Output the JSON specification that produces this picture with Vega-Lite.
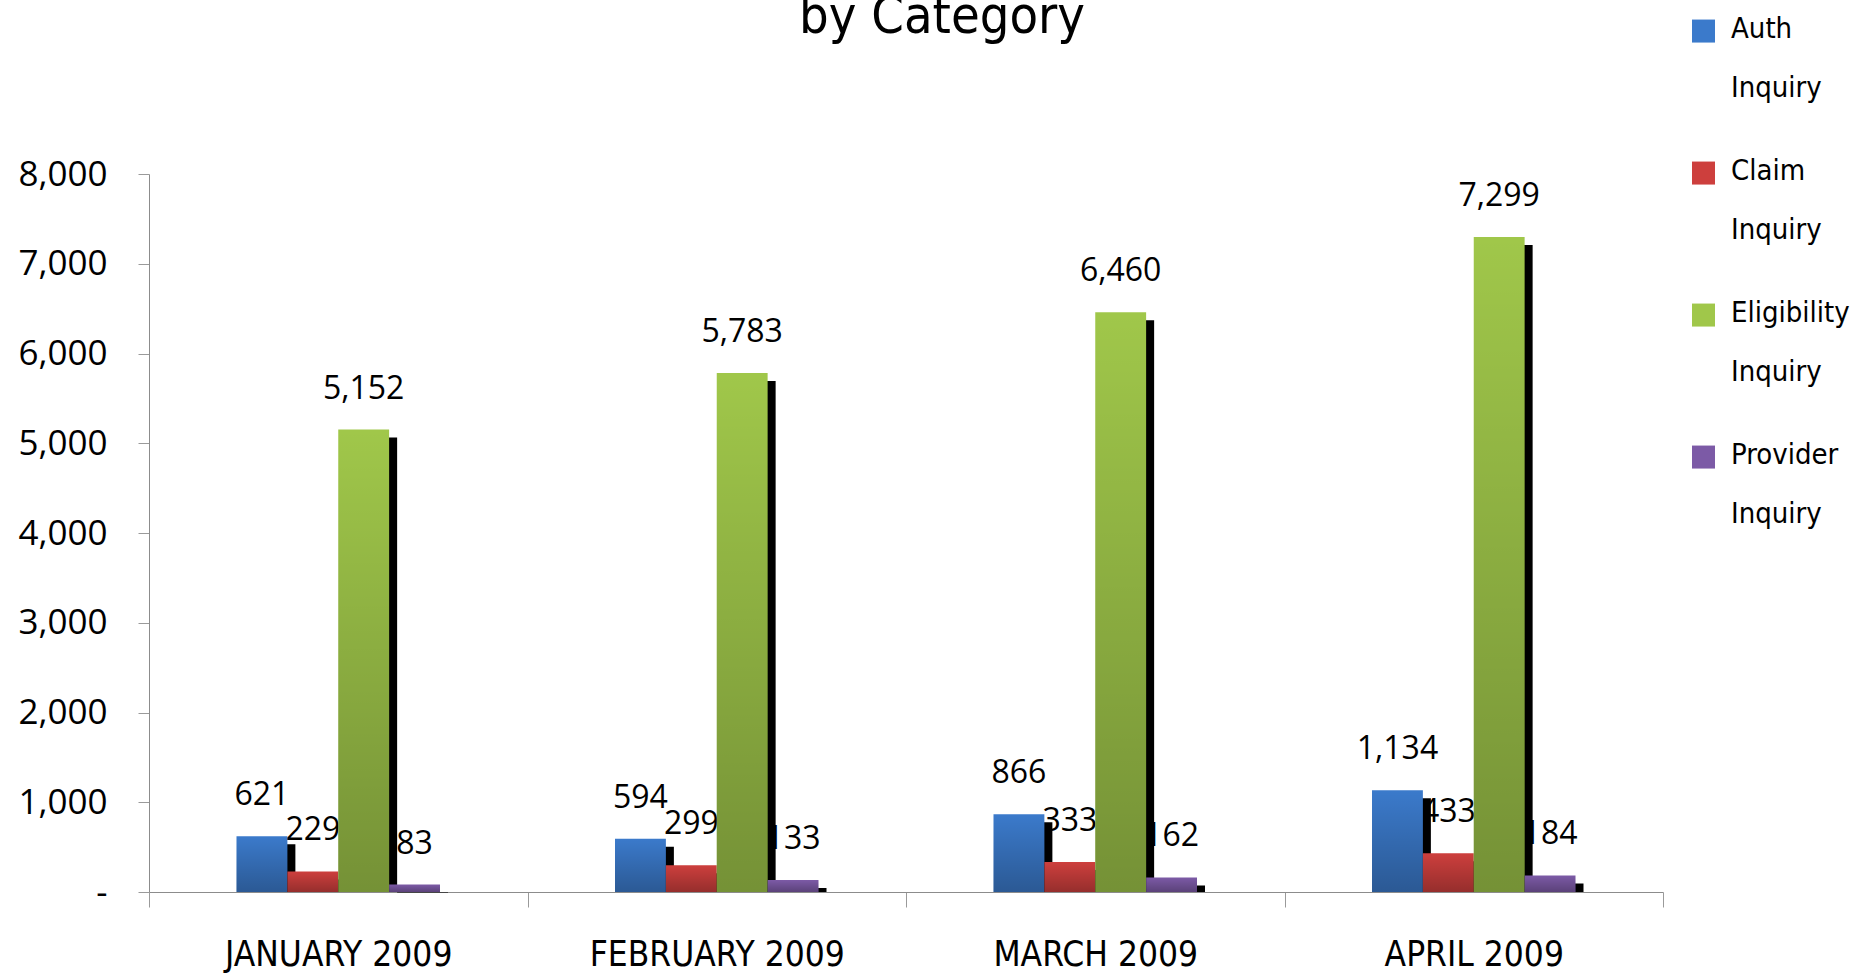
{
  "$schema": "https://vega.github.io/schema/vega-lite/v6.json",
  "autosize": "none",
  "width": 1514,
  "height": 718,
  "padding": {"left": 149, "top": 174, "right": 195, "bottom": 84},
  "background": "white",
  "title": {
    "text": "by Category",
    "font": "DejaVu Sans Condensed, DejaVu Sans",
    "fontSize": 52,
    "fontWeight": "normal",
    "color": "black",
    "anchor": "middle",
    "frame": "group",
    "dx": 36,
    "dy": 85,
    "offset": 0,
    "baseline": "alphabetic"
  },
  "data": {
    "values": [
      {"month": "JANUARY 2009", "series": "Auth Inquiry", "value": 621},
      {"month": "JANUARY 2009", "series": "Claim Inquiry", "value": 229},
      {"month": "JANUARY 2009", "series": "Eligibility Inquiry", "value": 5152},
      {"month": "JANUARY 2009", "series": "Provider Inquiry", "value": 83},
      {"month": "FEBRUARY 2009", "series": "Auth Inquiry", "value": 594},
      {"month": "FEBRUARY 2009", "series": "Claim Inquiry", "value": 299},
      {"month": "FEBRUARY 2009", "series": "Eligibility Inquiry", "value": 5783},
      {"month": "FEBRUARY 2009", "series": "Provider Inquiry", "value": 133},
      {"month": "MARCH 2009", "series": "Auth Inquiry", "value": 866},
      {"month": "MARCH 2009", "series": "Claim Inquiry", "value": 333},
      {"month": "MARCH 2009", "series": "Eligibility Inquiry", "value": 6460},
      {"month": "MARCH 2009", "series": "Provider Inquiry", "value": 162},
      {"month": "APRIL 2009", "series": "Auth Inquiry", "value": 1134},
      {"month": "APRIL 2009", "series": "Claim Inquiry", "value": 433},
      {"month": "APRIL 2009", "series": "Eligibility Inquiry", "value": 7299},
      {"month": "APRIL 2009", "series": "Provider Inquiry", "value": 184}
    ]
  },
  "encoding": {
    "x": {
      "field": "month",
      "type": "nominal",
      "sort": ["JANUARY 2009", "FEBRUARY 2009", "MARCH 2009", "APRIL 2009"],
      "scale": {"paddingInner": 0, "paddingOuter": 0},
      "axis": {
        "title": null,
        "tickBand": "extent",
        "tickSize": 15,
        "tickColor": "#9a9a9a",
        "domainColor": "#8c8c8c",
        "labelFont": "DejaVu Sans Condensed, DejaVu Sans",
        "labelFontSize": 35,
        "labelColor": "black",
        "labelAngle": 0,
        "labelBaseline": "top",
        "labelPadding": 30,
        "labelLimit": 400
      }
    },
    "y": {
      "field": "value",
      "type": "quantitative",
      "scale": {"domain": [0, 8000], "nice": false},
      "axis": {
        "title": null,
        "grid": false,
        "values": [0, 1000, 2000, 3000, 4000, 5000, 6000, 7000, 8000],
        "labelExpr": "datum.value == 0 ? '-\u00a0\u00a0\u00a0\u00a0' : format(datum.value, ',')",
        "tickSize": 11,
        "tickColor": "#9a9a9a",
        "domainColor": "#8c8c8c",
        "labelFont": "Open Sans",
        "labelFontSize": 35,
        "labelColor": "black",
        "labelPadding": 31
      }
    }
  },
  "layer": [
    {
      "mark": {"type": "text", "baseline": "alphabetic", "dy": -31, "font": "Open Sans", "fontSize": 32, "color": "black"},
      "encoding": {
        "xOffset": {
          "field": "series",
          "type": "nominal",
          "scale": {"type": "band", "domain": [" ", "Auth Inquiry", "Claim Inquiry", "Eligibility Inquiry", "Provider Inquiry", "  "], "paddingInner": 0, "paddingOuter": 0.72}
        },
        "text": {"field": "value", "type": "quantitative", "format": ","}
      }
    },
    {
      "mark": {"type": "bar", "color": "black", "yOffset": 8, "y2Offset": 0},
      "encoding": {
        "xOffset": {
          "field": "series",
          "type": "nominal",
          "scale": {"type": "band", "domain": [" ", "Auth Inquiry", "Claim Inquiry", "Eligibility Inquiry", "Provider Inquiry", "  "], "paddingInner": 0, "paddingOuter": 0.72, "align": 0.6093}
        },
        "y2": {"datum": 0}
      }
    },
    {
      "mark": {"type": "bar"},
      "encoding": {
        "xOffset": {
          "field": "series",
          "type": "nominal",
          "scale": {"type": "band", "domain": [" ", "Auth Inquiry", "Claim Inquiry", "Eligibility Inquiry", "Provider Inquiry", "  "], "paddingInner": 0, "paddingOuter": 0.72}
        },
        "color": {
          "field": "series",
          "type": "nominal",
          "scale": {
            "domain": ["Auth Inquiry", "Claim Inquiry", "Eligibility Inquiry", "Provider Inquiry"],
            "range": ["#3b7acb", "#cd3f3d", "#a0c74a", "#7c5aa6"]
          },
          "legend": {
            "title": null,
            "orient": "none",
            "legendX": 1540,
            "legendY": -174,
            "symbolType": "M-1,0.44H1V2.44H-1Z",
            "symbolSize": 529,
            "symbolStrokeWidth": 0,
            "labelFont": "DejaVu Sans Condensed, DejaVu Sans",
            "labelFontSize": 29,
            "labelColor": "black",
            "labelLimit": 300,
            "labelOffset": 13,
            "labelBaseline": "top",
            "labelExpr": "split(datum.label, ' ')",
            "rowPadding": 39
          }
        }
      }
    },
    {
      "mark": {
        "type": "bar",
        "fill": {
          "gradient": "linear",
          "x1": 0, "y1": 0, "x2": 0, "y2": 1,
          "stops": [
            {"offset": 0, "color": "rgba(0,0,0,0)"},
            {"offset": 1, "color": "rgba(0,0,0,0.27)"}
          ]
        }
      },
      "encoding": {
        "xOffset": {
          "field": "series",
          "type": "nominal",
          "scale": {"type": "band", "domain": [" ", "Auth Inquiry", "Claim Inquiry", "Eligibility Inquiry", "Provider Inquiry", "  "], "paddingInner": 0, "paddingOuter": 0.72}
        }
      }
    }
  ],
  "resolve": {"scale": {"xOffset": "independent"}},
  "config": {
    "view": {"stroke": null},
    "style": {"guide-label": {"lineHeight": 59}}
  }
}
